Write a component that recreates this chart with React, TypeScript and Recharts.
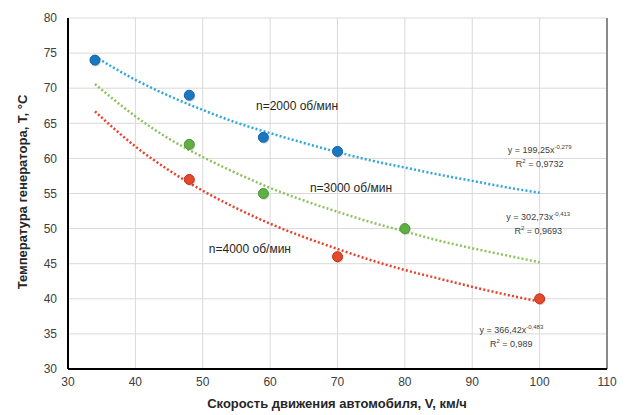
import React from 'react';
import {
  ComposedChart, Line, Scatter, XAxis, YAxis, CartesianGrid, ReferenceLine, ReferenceDot
} from 'recharts';

// measured points
const pts2000 = [
  { x: 34, y: 74 }, { x: 48, y: 69 }, { x: 59, y: 63 }, { x: 70, y: 61 },
];
const pts3000 = [
  { x: 48, y: 62 }, { x: 59, y: 55 }, { x: 80, y: 50 },
];
const pts4000 = [
  { x: 48, y: 57 }, { x: 70, y: 46 }, { x: 100, y: 40 },
];

// power trendlines, values
const trendX = [34, 40, 45, 50, 55, 60, 65, 70, 75, 80, 85, 90, 95, 100];
const trend2000 = [74.5, 71.2, 68.9, 66.9, 65.1, 63.6, 62.2, 60.9, 59.7, 58.7, 57.7, 56.8, 55.9, 55.1];
const trend3000 = [70.6, 66.0, 62.8, 60.2, 57.9, 55.8, 54.0, 52.4, 50.9, 49.6, 48.3, 47.2, 46.2, 45.2];
const trend4000 = [66.7, 61.7, 58.3, 55.4, 52.9, 50.7, 48.8, 47.1, 45.5, 44.1, 42.9, 41.7, 40.6, 39.6];

const xTicks = [30, 40, 50, 60, 70, 80, 90, 100, 110];
const yTicks = [30, 35, 40, 45, 50, 55, 60, 65, 70, 75, 80];

const toRows = (ys: number[]) => trendX.map((x, i) => ({ x, y: ys[i] }));

const FONT = '"Liberation Sans", Arial, sans-serif';

const seriesLabels = [
  { x: 64, y: 67.4, text: 'n=2000 об/мин' },
  { x: 72, y: 55.8, text: 'n=3000 об/мин' },
  { x: 57, y: 47.1, text: 'n=4000 об/мин' },
];

const equations = [
  { x: 100, y: 60.7, coef: '199,25', pow: '-0,279', r2: '0,9732' },
  { x: 99.8, y: 51.2, coef: '302,73', pow: '-0,413', r2: '0,9693' },
  { x: 95.8, y: 35.1, coef: '366,42', pow: '-0,483', r2: '0,989' },
];

const Dot = (color: string, edge: string) => (p: any) => (
  <g>
    <circle cx={p.cx + 1} cy={p.cy + 1.5} r={5} fill="#000" opacity={0.15} />
    <circle cx={p.cx} cy={p.cy} r={5} fill={color} stroke={edge} strokeWidth={1} />
  </g>
);

export default function App() {
  return (
    <div style={{ position: 'fixed', left: 0, top: 0, background: '#fff' }}>
      <ComposedChart width={625} height={415} margin={{ top: 18, right: 18, bottom: 0, left: 0 }}>
        <CartesianGrid stroke="#d9d9d9" strokeWidth={1} />
        <XAxis
          type="number" dataKey="x" domain={[30, 110]} ticks={xTicks} allowDataOverflow
          height={46} tickLine={false} tickMargin={2}
          axisLine={{ stroke: '#000', strokeWidth: 2 }}
          tick={{ fill: '#404040', fontSize: 12, fontFamily: FONT }}
          label={{
            content: () => (
              <text x={337} y={408} textAnchor="middle" fontFamily={FONT} fontSize={13} fontWeight="bold" fill="#262626">
                Скорость движения автомобиля, V, км/ч
              </text>
            ),
          }}
        />
        <YAxis
          type="number" domain={[30, 80]} ticks={yTicks} allowDataOverflow
          width={68} tickLine={false} tickMargin={5}
          axisLine={{ stroke: '#000', strokeWidth: 2 }}
          tick={{ fill: '#404040', fontSize: 12, fontFamily: FONT }}
          label={{
            content: () => (
              <text x={22} y={192} transform="rotate(-90 22 192)" textAnchor="middle" dominantBaseline="central"
                fontFamily={FONT} fontSize={13} fontWeight="bold" fill="#262626">
                Температура  генератора, Т, °С
              </text>
            ),
          }}
        />
        <ReferenceLine x={110} stroke="#6a6a6a" strokeWidth={1.5} />

        <Line data={toRows(trend2000)} dataKey="y" type="monotone" stroke="#2ea6dc" strokeWidth={2.5}
          strokeDasharray="2 2.2" dot={false} activeDot={false} isAnimationActive={false} />
        <Line data={toRows(trend3000)} dataKey="y" type="monotone" stroke="#8cc35a" strokeWidth={2.5}
          strokeDasharray="2 2.2" dot={false} activeDot={false} isAnimationActive={false} />
        <Line data={toRows(trend4000)} dataKey="y" type="monotone" stroke="#e8402a" strokeWidth={2.5}
          strokeDasharray="2 2.2" dot={false} activeDot={false} isAnimationActive={false} />

        <Scatter data={pts2000} dataKey="y" shape={Dot('#1a78c2', '#1565a8')} isAnimationActive={false} />
        <Scatter data={pts3000} dataKey="y" shape={Dot('#5fb043', '#4c9535')} isAnimationActive={false} />
        <Scatter data={pts4000} dataKey="y" shape={Dot('#e5492b', '#b8321c')} isAnimationActive={false} />

        {seriesLabels.map((l, i) => (
          <ReferenceDot key={'s' + i} x={l.x} y={l.y} r={0}
            shape={(p: any) => (
              <text x={p.cx} y={p.cy} textAnchor="middle" dominantBaseline="central"
                fontFamily={FONT} fontSize={12} fill="#262626">{l.text}</text>
            )}
          />
        ))}
        {equations.map((e, i) => (
          <ReferenceDot key={'e' + i} x={e.x} y={e.y} r={0}
            shape={(p: any) => (
              <g fontFamily={FONT} fill="#404040">
                <text x={p.cx} y={p.cy} textAnchor="middle" fontSize={9}>
                  {'y = ' + e.coef + 'x'}
                  <tspan fontSize={6} dy={-4}>{e.pow}</tspan>
                </text>
                <text x={p.cx} y={p.cy + 14} textAnchor="middle" fontSize={9}>
                  R<tspan fontSize={6} dy={-4}>2</tspan><tspan dy={4}>{' = ' + e.r2}</tspan>
                </text>
              </g>
            )}
          />
        ))}
      </ComposedChart>
    </div>
  );
}
